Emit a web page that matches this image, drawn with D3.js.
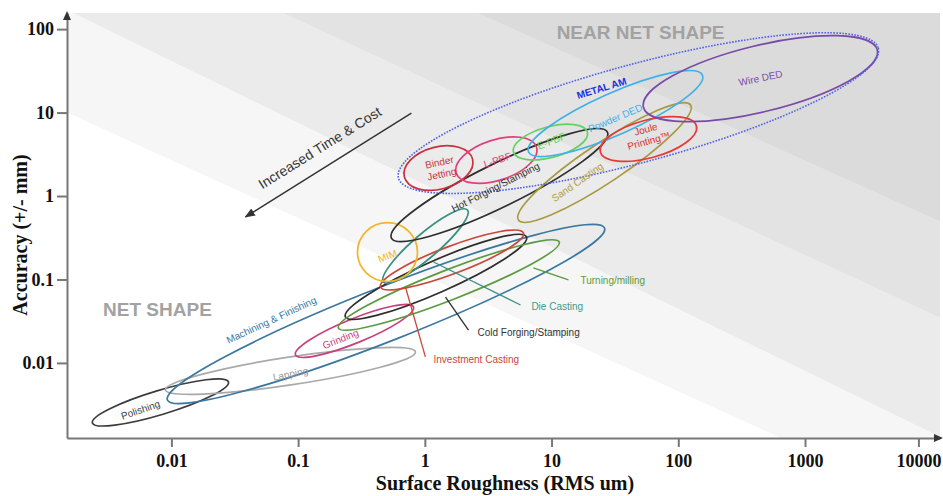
<!DOCTYPE html>
<html>
<head>
<meta charset="utf-8">
<script src="https://cdn.jsdelivr.net/npm/d3@7"></script>
<style>
  body { margin: 0; background: #fff; }
  svg { display: block; font-family: "Liberation Sans", Arial, sans-serif; }
  .tick text { font-family: "Liberation Serif", "Times New Roman", serif; font-weight: bold; fill: #111; }
</style>
</head>
<body>
<div id="chart"></div>
<script>
// ---- data ----
var processes = ["Polishing", "Lapping", "Machining & Finishing", "Grinding", "Cold Forging/Stamping",
    "Turning/milling", "Investment Casting", "Die Casting", "MIM", "Hot Forging/Stamping", "Sand Casting",
    "Binder Jetting", "L-PBF", "E-PBF", "Powder DED", "Joule Printing", "Wire DED", "METAL AM"];

// ends of each envelope's long axis (roughness um, accuracy mm)
var roughLow  = [0.00238, 0.00897, 0.0093, 0.0953, 0.236, 0.208, 0.447, 0.471, 0.294, 0.545, 5.48, 0.69, 1.77, 5.0, 6.58, 24.3, 53.1, 0.619];
var accLow    = [0.00191, 0.00475, 0.0036, 0.01247, 0.0356, 0.0262, 0.0813, 0.0933, 0.213, 0.314, 0.516, 1.69, 1.88, 3.37, 3.37, 3.37, 11.6, 1.64];
var roughHigh = [0.0282, 0.843, 26.2, 0.813, 6.34, 11.5, 6.0, 2.17, 0.875, 27.6, 125, 2.38, 7.6, 19.2, 155, 139, 4340, 4430];
var accHigh   = [0.00592, 0.01354, 0.414, 0.0469, 0.323, 0.281, 0.361, 0.679, 0.213, 5.83, 12.3, 2.77, 3.86, 5.83, 28.1, 6.89, 56.1, 59.2];
// width / length of each envelope
var aspect    = [0.17, 0.11, 0.115, 0.19, 0.16, 0.126, 0.18, 0.22, 0.98, 0.18, 0.19, 0.6, 0.48, 0.4, 0.22, 0.38, 0.275, 0.197];

var labelText  = ["Polishing", "Lapping", "Machining & Finishing", "Grinding", "Cold Forging/Stamping",
    "Turning/milling", "Investment Casting", "Die Casting", "MIM", "Hot Forging/Stamping", "Sand Casting",
    "Binder|Jetting", "L-PBF", "E-PBF", "Powder DED", "Joule|Printing\u2122", "Wire DED", "METAL AM"];
var labelRough = [0.0057, 0.087, 0.0615, 0.216, 2.6, 16.9, 1.17, 6.93, 0.507, 3.61, 16.0, 1.33, 3.74, 9.98, 31.9, 57, 446, 24.8];
var labelAcc   = [0.00274, 0.00738, 0.0327, 0.0194, 0.0229, 0.096, 0.01086, 0.0469, 0.191, 1.28, 1.47, 2.16, 2.70, 4.56, 8.6, 5.38, 25.9, 19.6];

// leader lines: [rough1, acc1, rough2, acc2] for the labels set outside
var leaders = {
    "Cold Forging/Stamping": [1.456, 0.0616, 2.21, 0.0248],
    "Turning/milling": [7.19, 0.1374, 13.6, 0.0986],
    "Investment Casting": [0.703, 0.0813, 1.01, 0.0118],
    "Die Casting": [1.17, 0.162, 5.69, 0.0495]
};

// grey band edges: accuracy at the left and right end of the axis
var bandLeft  = [10, 170, 2500, 26000];
var bandRight = [0.00017, 0.0013, 0.035, 0.5];

var xTicks = [0.01, 0.1, 1, 10, 100, 1000, 10000];
var xTickLabels = ["0.01", "0.1", "1", "10", "100", "1000", "10000"];
var yTicks = [0.01, 0.1, 1, 10, 100];
var yTickLabels = ["0.01", "0.1", "1", "10", "100"];

// ---- styles ----
var colors = {
    "Polishing": "#3c3c3c", "Lapping": "#a9a9a9", "Machining & Finishing": "#3a78a0", "Grinding": "#c8407a",
    "Cold Forging/Stamping": "#2e2e2e", "Turning/milling": "#5b9a40", "Investment Casting": "#c8483a",
    "Die Casting": "#3a9080", "MIM": "#f2b52a", "Hot Forging/Stamping": "#2e2e2e", "Sand Casting": "#a89a40",
    "Binder Jetting": "#c83040", "L-PBF": "#e0407a", "E-PBF": "#66d060", "Powder DED": "#40b0e8",
    "Joule Printing": "#e83838", "Wire DED": "#7a4aa8", "METAL AM": "#5060e8"
};
var labelColors = ["#444", "#999", "#3a78a0", "#c8407a", "#333", "#5b9a40", "#c8483a", "#3a9a8a", "#f2b52a",
    "#333", "#b0a040", "#c83040", "#e0407a", "#66d060", "#40b0e8", "#e03030", "#7a4aa8", "#2030e0"];
var labelAngle = [-19, -11, -25, -22, 0, 0, 0, 0, -20, -27, -35, -12, -18, -22, -23, -15, -12, -17];
var bandColors = ["#f6f6f6", "#ebebeb", "#e3e3e3", "#dbdbdb"];

var svgWidth = 943;
var svgHeight = 496;

var svg = d3.select("#chart")
    .append("svg")
    .attr("width", svgWidth)
    .attr("height", svgHeight);

// the hand-drawn axis has a shorter last decade, so the x scale is piecewise
var x = d3.scaleLog().domain([0.0015, 1000, 15500]).range([67, 805, 940]);
var y = d3.scaleLog().domain([0.00126, 156]).range([438, 13]);

// background bands
svg.append("clipPath").attr("id", "plot")
    .append("rect")
    .attr("x", 67).attr("y", 13)
    .attr("width", 940 - 67).attr("height", 438 - 13);

var bands = svg.append("g").attr("clip-path", "url(#plot)");
bandLeft.forEach(function (v, i) {
    var xl = x.domain()[0], xr = x.domain()[2];
    var pts = [[x(xl), y(v)], [x(xr), y(bandRight[i])], [x(xr), y(1e8)], [x(xl), y(1e8)]];
    bands.append("polygon")
        .attr("points", pts.map(p => p.join(",")).join(" "))
        .attr("fill", bandColors[i]);
});

// axes
var bottomAxis = d3.axisBottom(x).tickValues(xTicks)
    .tickFormat((d, i) => xTickLabels[i]).tickSize(9).tickSizeOuter(0).tickPadding(7);
var leftAxis = d3.axisLeft(y).tickValues(yTicks)
    .tickFormat((d, i) => yTickLabels[i]).tickSize(10).tickSizeOuter(0).tickPadding(3);

var xg = svg.append("g").attr("transform", "translate(0,438)").call(bottomAxis);
var yg = svg.append("g").attr("transform", "translate(67,0)").call(leftAxis);
[xg, yg].forEach(function (g) {
    g.select(".domain").attr("stroke", "#777").attr("stroke-width", 2);
    g.selectAll(".tick line").attr("stroke", "#777").attr("stroke-width", 2);
    g.selectAll(".tick text").style("font-size", "18px");
});

svg.append("path").attr("d", "M67,11 L63,20 L71,20 Z").attr("fill", "#333");
svg.append("path").attr("d", "M943,438 L934,434 L934,442 Z").attr("fill", "#333");

svg.append("text")
    .attr("transform", "translate(27,235) rotate(-90)")
    .attr("text-anchor", "middle")
    .style("font-family", "'Liberation Serif', 'Times New Roman', serif")
    .style("font-weight", "bold").style("font-size", "20px").attr("fill", "#111")
    .text("Accuracy (+/- mm)");

svg.append("text")
    .attr("x", 505).attr("y", 490)
    .attr("text-anchor", "middle")
    .style("font-family", "'Liberation Serif', 'Times New Roman', serif")
    .style("font-weight", "bold").style("font-size", "20px").attr("fill", "#111")
    .text("Surface Roughness (RMS um)");

// region titles
svg.append("text")
    .attr("x", x(50.4)).attr("y", y(92)).attr("dy", "0.35em")
    .attr("text-anchor", "middle")
    .style("font-weight", "bold").style("font-size", "19px").attr("fill", "#a2a2a2")
    .text("NEAR NET SHAPE");
svg.append("text")
    .attr("x", x(0.00776)).attr("y", y(0.0444)).attr("dy", "0.35em")
    .attr("text-anchor", "middle")
    .style("font-weight", "bold").style("font-size", "19px").attr("fill", "#a2a2a2")
    .text("NET SHAPE");

// time & cost arrow
svg.append("defs").append("marker")
    .attr("id", "head").attr("viewBox", "0 0 10 10")
    .attr("refX", 9).attr("refY", 5)
    .attr("markerWidth", 7).attr("markerHeight", 7)
    .attr("orient", "auto")
    .append("path").attr("d", "M0,1 L10,5 L0,9 Z").attr("fill", "#333");
svg.append("line")
    .attr("x1", x(0.783)).attr("y1", y(9.86))
    .attr("x2", x(0.0384)).attr("y2", y(0.561))
    .attr("stroke", "#333").attr("stroke-width", 1.5)
    .attr("marker-end", "url(#head)");
svg.append("text")
    .attr("transform", `translate(${x(0.1555)},${y(3.37)}) rotate(-32)`)
    .attr("text-anchor", "middle")
    .style("font-size", "14px").attr("fill", "#333")
    .text("Increased Time & Cost");

// envelopes
var shapes = processes.map(function (name, i) {
    var x1 = x(roughLow[i]), y1 = y(accLow[i]);
    var x2 = x(roughHigh[i]), y2 = y(accHigh[i]);
    var a = Math.hypot(x2 - x1, y2 - y1) / 2;
    return {
        name: name,
        cx: (x1 + x2) / 2,
        cy: (y1 + y2) / 2,
        a: a,
        b: a * aspect[i],
        angle: Math.atan2(y2 - y1, x2 - x1) * 180 / Math.PI
    };
});

svg.append("g").selectAll("ellipse")
    .data(shapes)
    .enter()
    .append("ellipse")
    .attr("transform", d => `translate(${d.cx},${d.cy}) rotate(${d.angle})`)
    .attr("rx", d => d.a)
    .attr("ry", d => d.b)
    .attr("fill", "none")
    .attr("stroke", d => colors[d.name])
    .attr("stroke-width", d => d.name == "METAL AM" ? 1.6 : 1.7)
    .attr("stroke-dasharray", d => d.name == "METAL AM" ? "1.6,1.4" : null);

// leader lines
Object.keys(leaders).forEach(function (name) {
    var l = leaders[name];
    svg.append("line")
        .attr("x1", x(l[0])).attr("y1", y(l[1]))
        .attr("x2", x(l[2])).attr("y2", y(l[3]))
        .attr("stroke", colors[name]).attr("stroke-width", 1.3);
});

// envelope labels
labelText.forEach(function (t, i) {
    var outside = leaders[t] !== undefined;
    var lines = t.split("|");
    var txt = svg.append("text")
        .attr("transform", `translate(${x(labelRough[i])},${y(labelAcc[i])}) rotate(${labelAngle[i]})`)
        .attr("text-anchor", outside ? "start" : "middle")
        .style("font-size", "10px")
        .style("font-weight", t == "METAL AM" ? "bold" : "normal")
        .attr("fill", labelColors[i]);
    lines.forEach(function (s, k) {
        txt.append("tspan")
            .attr("x", 0)
            .attr("dy", k == 0 ? ((0.35 - (lines.length - 1) * 0.6) + "em") : "1.2em")
            .text(s);
    });
});
</script>
</body>
</html>
